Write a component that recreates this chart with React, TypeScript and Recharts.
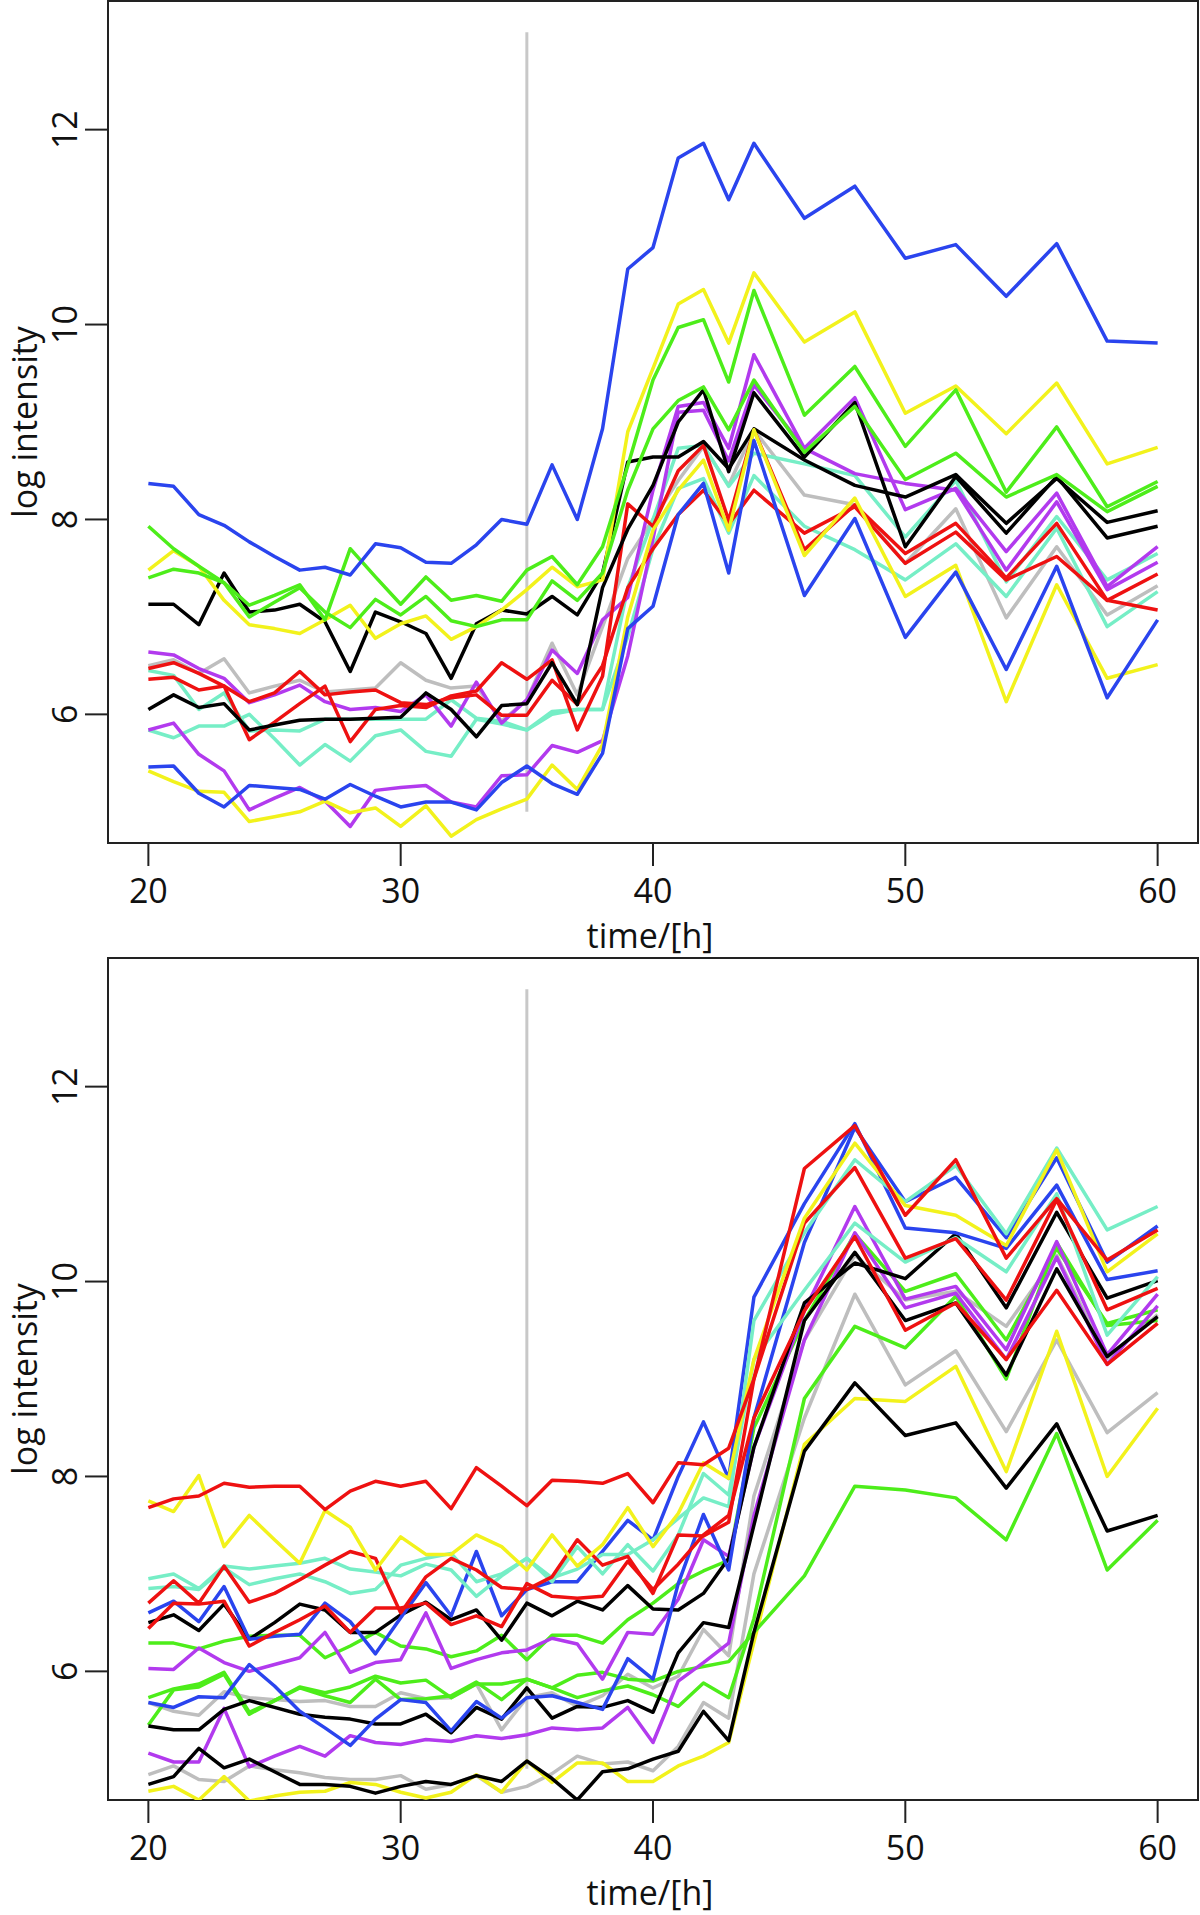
import React from 'react';
import { LineChart, Line, XAxis, YAxis, ReferenceLine, ReferenceArea } from 'recharts';

// sampling times (hourly to 44 h, then every 2 h)
const times = [20, 21, 22, 23, 24, 25, 26, 27, 28, 29, 30, 31, 32, 33, 34, 35, 36, 37, 38,
  39, 40, 41, 42, 43, 44, 46, 48, 50, 52, 54, 56, 58, 60];

const xTicks = [20, 30, 40, 50, 60];
const yTicks = [6, 8, 10, 12];

// ---- upper panel ----
const topBlue1 = [8.37, 8.34, 8.05, 7.94, 7.77, 7.62, 7.48, 7.51, 7.43, 7.75, 7.71, 7.56, 7.55, 7.74, 8.0, 7.95, 8.56, 8.0, 8.93,
  10.57, 10.79, 11.71, 11.86, 11.28, 11.86, 11.09, 11.42, 10.68, 10.82, 10.29, 10.83, 9.83, 9.81];
const topBlue2 = [5.46, 5.47, 5.19, 5.05, 5.27, 5.25, 5.23, 5.13, 5.28, 5.16, 5.05, 5.1, 5.1, 5.02, 5.3, 5.47, 5.29, 5.18, 5.6,
  6.88, 7.11, 8.05, 8.37, 7.45, 8.81, 7.22, 8.01, 6.79, 7.46, 6.46, 7.52, 6.17, 6.97];
const topYellow1 = [7.48, 7.68, 7.52, 7.17, 6.92, 6.88, 6.83, 6.97, 7.12, 6.78, 6.93, 7.01, 6.77, 6.9, 7.07, 7.28, 7.51, 7.31, 7.38,
  8.9, 9.55, 10.21, 10.36, 9.81, 10.53, 9.82, 10.13, 9.09, 9.37, 8.88, 9.4, 8.57, 8.74];
const topYellow2 = [5.42, 5.31, 5.21, 5.2, 4.9, 4.95, 5.0, 5.11, 4.99, 5.04, 4.85, 5.06, 4.75, 4.92, 5.03, 5.13, 5.48, 5.23, 5.69,
  7.0, 7.89, 8.3, 8.61, 7.89, 8.92, 7.63, 8.22, 7.21, 7.53, 6.13, 7.33, 6.37, 6.51];
const topGreen1 = [7.93, 7.7, 7.52, 7.35, 7.12, 7.22, 7.33, 6.97, 7.7, 7.41, 7.13, 7.41, 7.17, 7.22, 7.16, 7.48, 7.62, 7.33, 7.72,
  8.55, 9.43, 9.97, 10.05, 9.41, 10.35, 9.07, 9.57, 8.75, 9.33, 8.28, 8.95, 8.13, 8.39];
const topGreen2 = [7.4, 7.49, 7.45, 7.35, 7.0, 7.15, 7.3, 7.05, 6.89, 7.18, 7.02, 7.21, 6.96, 6.9, 6.97, 6.97, 7.37, 7.17, 7.45,
  8.3, 8.93, 9.22, 9.36, 8.92, 9.43, 8.69, 9.16, 8.41, 8.68, 8.23, 8.46, 8.08, 8.34];
const topBlack1 = [7.13, 7.13, 6.92, 7.45, 7.05, 7.07, 7.13, 6.95, 6.44, 7.05, 6.95, 6.83, 6.37, 6.93, 7.07, 7.03, 7.21, 7.02, 7.45,
  8.59, 8.64, 8.64, 8.8, 8.52, 8.93, 8.61, 8.35, 8.23, 8.46, 7.96, 8.42, 7.97, 8.09];
const topBlack2 = [6.05, 6.2, 6.07, 6.11, 5.84, 5.89, 5.94, 5.95, 5.95, 5.96, 5.97, 6.22, 6.05, 5.77, 6.09, 6.11, 6.53, 6.1, 7.3,
  7.9, 8.35, 9.0, 9.33, 8.49, 9.3, 8.64, 9.2, 7.72, 8.44, 7.86, 8.44, 7.81, 7.93];
const topGray = [6.5, 6.56, 6.42, 6.57, 6.22, 6.29, 6.35, 6.23, 6.25, 6.27, 6.53, 6.35, 6.27, 6.29, 5.93, 6.15, 6.73, 6.2, 6.9,
  7.6, 8.0, 8.4, 8.75, 8.35, 8.92, 8.25, 8.15, 7.55, 8.11, 6.99, 7.72, 7.02, 7.32];
const topPurple1 = [6.64, 6.61, 6.47, 6.37, 6.12, 6.2, 6.3, 6.13, 6.05, 6.07, 6.03, 6.2, 5.88, 6.33, 5.91, 6.15, 6.66, 6.42, 6.97,
  7.2, 8.3, 9.16, 9.2, 8.73, 9.69, 8.73, 9.25, 8.1, 8.32, 7.67, 8.27, 7.31, 7.72];
const topPurple2 = [5.84, 5.91, 5.59, 5.42, 5.02, 5.14, 5.25, 5.11, 4.85, 5.22, 5.25, 5.27, 5.1, 5.05, 5.37, 5.38, 5.68, 5.61, 5.73,
  6.6, 7.8, 9.1, 9.12, 8.6, 9.38, 8.73, 8.47, 8.37, 8.3, 7.48, 8.18, 7.28, 7.56];
const topRed1 = [6.47, 6.53, 6.42, 6.29, 5.74, 5.92, 6.11, 6.29, 5.72, 6.05, 6.09, 6.07, 6.19, 6.24, 6.53, 6.36, 6.56, 5.84, 6.39,
  8.16, 7.93, 8.5, 8.76, 7.99, 8.92, 7.69, 8.15, 7.65, 7.96, 7.4, 7.96, 7.17, 7.44];
const topRed2 = [6.36, 6.38, 6.25, 6.29, 6.13, 6.22, 6.44, 6.2, 6.23, 6.25, 6.12, 6.1, 6.17, 6.2, 5.99, 5.99, 6.35, 6.1, 6.5,
  7.3, 7.7, 8.05, 8.3, 7.95, 8.3, 7.86, 8.13, 7.55, 7.87, 7.38, 7.62, 7.17, 7.07];
const topCyan1 = [6.45, 6.4, 6.05, 6.22, 5.83, 5.84, 5.83, 5.95, 5.95, 5.95, 5.95, 5.95, 6.15, 5.96, 5.93, 5.84, 6.03, 6.05, 6.05,
  7.3, 8.0, 8.73, 8.76, 8.34, 8.68, 8.57, 8.45, 7.82, 8.4, 7.36, 8.03, 7.38, 7.65];
const topCyan2 = [5.84, 5.76, 5.88, 5.88, 6.0, 5.75, 5.48, 5.69, 5.52, 5.78, 5.84, 5.62, 5.57, 5.95, 5.9, 5.84, 6.0, 6.05, 6.05,
  6.8, 7.7, 8.32, 8.42, 7.86, 8.45, 7.93, 7.69, 7.38, 7.75, 7.21, 7.91, 6.9, 7.26];

// ---- lower panel ----
const botRed1 = [7.68, 7.77, 7.8, 7.93, 7.89, 7.9, 7.9, 7.66, 7.85, 7.95, 7.9, 7.95, 7.67, 8.09, 7.9, 7.7, 7.96, 7.95, 7.93,
  8.03, 7.73, 8.14, 8.12, 8.29, 9.0, 11.16, 11.6, 10.68, 11.25, 10.24, 10.85, 10.22, 10.53];
const botYellow1 = [7.75, 7.64, 8.01, 7.28, 7.6, 7.35, 7.11, 7.65, 7.48, 7.04, 7.38, 7.2, 7.2, 7.4, 7.28, 7.04, 7.4, 7.08, 7.3,
  7.68, 7.28, 7.62, 8.14, 7.98, 9.2, 10.65, 11.42, 10.78, 10.68, 10.37, 11.35, 10.1, 10.49];
const botCyan1 = [6.95, 7.0, 6.85, 7.08, 7.05, 7.08, 7.11, 7.16, 7.05, 7.02, 6.98, 7.1, 7.04, 6.77, 6.98, 7.16, 6.96, 7.05, 7.2,
  7.2, 7.35, 7.57, 7.78, 7.69, 9.6, 10.5, 11.25, 10.82, 11.19, 10.49, 11.37, 10.53, 10.77];
const botCyan2 = [6.85, 6.87, 6.84, 7.06, 6.89, 6.95, 7.0, 6.92, 6.8, 6.84, 7.09, 7.16, 7.21, 6.92, 7.0, 7.16, 6.92, 7.28, 7.0,
  7.3, 7.03, 7.4, 8.03, 7.81, 9.2, 9.91, 10.6, 10.2, 10.45, 10.1, 10.9, 9.45, 10.05];
const botRed2 = [6.7, 6.93, 6.7, 7.08, 6.71, 6.8, 6.94, 7.09, 7.23, 7.16, 6.6, 6.97, 7.16, 7.04, 6.86, 6.84, 6.97, 7.35, 7.09,
  7.18, 6.8, 7.4, 7.39, 7.53, 9.0, 10.6, 11.17, 10.24, 10.44, 9.81, 10.84, 9.71, 9.93];
const botRed3 = [6.44, 6.7, 6.69, 6.72, 6.26, 6.4, 6.53, 6.67, 6.4, 6.65, 6.65, 6.7, 6.48, 6.57, 6.46, 6.9, 6.77, 6.75, 6.77,
  7.13, 6.84, 7.1, 7.4, 7.6, 8.6, 9.7, 10.46, 9.5, 9.78, 9.2, 9.91, 9.15, 9.57];
const botBlue1 = [6.6, 6.72, 6.51, 6.87, 6.33, 6.36, 6.38, 6.7, 6.51, 6.18, 6.55, 6.91, 6.57, 7.23, 6.57, 6.84, 6.92, 6.92, 7.23,
  7.55, 7.35, 8.0, 8.56, 7.98, 9.84, 10.8, 11.62, 10.55, 10.5, 10.34, 10.99, 10.02, 10.11];
const botBlue2 = [5.68, 5.63, 5.74, 5.73, 6.07, 5.85, 5.59, 5.42, 5.24, 5.51, 5.71, 5.68, 5.39, 5.69, 5.52, 5.73, 5.75, 5.68, 5.61,
  6.13, 5.92, 6.9, 7.61, 7.04, 8.6, 10.4, 11.58, 10.82, 11.07, 10.45, 11.27, 10.2, 10.57];
const botBlack1 = [6.5, 6.58, 6.42, 6.69, 6.33, 6.5, 6.69, 6.63, 6.4, 6.4, 6.58, 6.71, 6.53, 6.63, 6.32, 6.7, 6.57, 6.72, 6.63,
  6.88, 6.64, 6.63, 6.8, 7.16, 8.3, 9.78, 10.19, 10.03, 10.49, 9.73, 10.71, 9.83, 10.01];
const botBlack2 = [5.44, 5.4, 5.4, 5.61, 5.7, 5.63, 5.56, 5.53, 5.51, 5.46, 5.46, 5.56, 5.37, 5.63, 5.51, 5.83, 5.52, 5.64, 5.63,
  5.7, 5.58, 6.19, 6.5, 6.45, 7.5, 9.6, 10.3, 9.6, 9.78, 9.04, 10.13, 9.23, 9.64];
const botBlack3 = [4.84, 4.92, 5.21, 5.01, 5.1, 4.97, 4.84, 4.84, 4.82, 4.75, 4.82, 4.87, 4.84, 4.93, 4.87, 5.08, 4.9, 4.68, 4.97,
  5.0, 5.1, 5.18, 5.59, 5.29, 6.4, 8.26, 8.96, 8.42, 8.55, 7.88, 8.54, 7.44, 7.6];
const botGreen1 = [6.29, 6.29, 6.23, 6.31, 6.36, 6.37, 6.37, 6.14, 6.26, 6.4, 6.26, 6.23, 6.15, 6.21, 6.37, 6.12, 6.37, 6.37, 6.29,
  6.53, 6.7, 6.9, 7.03, 7.14, 8.5, 9.6, 10.49, 9.9, 10.08, 9.4, 10.34, 9.57, 9.71];
const botGreen2 = [5.73, 5.82, 5.87, 5.99, 5.58, 5.7, 5.84, 5.78, 5.84, 5.95, 5.88, 5.91, 5.73, 5.87, 5.87, 5.92, 5.83, 5.96, 5.99,
  5.92, 5.9, 6.0, 6.05, 6.1, 6.4, 6.98, 7.9, 7.86, 7.78, 7.35, 8.44, 7.04, 7.55];
const botGreen3 = [5.45, 5.81, 5.84, 5.97, 5.56, 5.7, 5.83, 5.75, 5.68, 5.92, 5.71, 5.72, 5.75, 5.89, 5.71, 5.92, 5.83, 5.73, 5.8,
  5.85, 5.76, 5.64, 5.88, 5.73, 6.54, 8.8, 9.54, 9.32, 9.85, 9.0, 10.4, 9.55, 9.6];
const botPurple1 = [6.03, 6.02, 6.24, 6.09, 6.0, 6.07, 6.14, 6.4, 5.99, 6.09, 6.12, 6.6, 6.03, 6.12, 6.19, 6.22, 6.34, 6.28, 5.92,
  6.4, 6.38, 6.74, 7.35, 7.18, 8.3, 9.7, 10.77, 9.82, 9.95, 9.3, 10.41, 9.25, 9.87];
const botPurple2 = [5.16, 5.07, 5.07, 5.62, 5.02, 5.13, 5.23, 5.13, 5.34, 5.27, 5.25, 5.3, 5.28, 5.34, 5.31, 5.35, 5.42, 5.4, 5.42,
  5.63, 5.27, 5.9, 6.09, 6.29, 7.6, 9.4, 10.5, 9.73, 9.88, 9.2, 10.25, 9.15, 9.75];
const botGray1 = [5.68, 5.59, 5.55, 5.79, 5.73, 5.71, 5.69, 5.7, 5.64, 5.64, 5.78, 5.72, 5.73, 5.87, 5.4, 5.73, 5.78, 5.64, 5.75,
  5.97, 5.83, 5.95, 6.43, 6.16, 7.8, 9.4, 10.27, 9.81, 9.9, 9.54, 10.27, 9.21, 9.66];
const botGray2 = [4.94, 5.03, 4.89, 4.87, 5.03, 4.99, 4.96, 4.91, 4.89, 4.89, 4.93, 4.79, 4.84, 4.93, 4.76, 4.82, 4.95, 5.13, 5.05,
  5.07, 4.98, 5.23, 5.68, 5.52, 7.0, 8.6, 9.87, 8.94, 9.29, 8.46, 9.4, 8.45, 8.86];
const botYellow2 = [4.77, 4.82, 4.68, 4.92, 4.67, 4.72, 4.76, 4.77, 4.86, 4.84, 4.76, 4.7, 4.76, 4.94, 4.76, 5.08, 4.86, 5.06, 5.06,
  4.87, 4.87, 5.03, 5.13, 5.27, 6.3, 8.33, 8.8, 8.77, 9.13, 8.05, 9.49, 8.0, 8.7];

const BLUE = '#2a44ee';
const YELLOW = '#f2f21c';
const GREEN = '#4ded1a';
const PURPLE = '#b23aee';
const CYAN = '#76eec6';
const RED = '#ee1111';
const GRAY = '#bebebe';
const BLACK = '#000000';

const topSeries = [
  { key: 'gray', color: GRAY, values: topGray },
  { key: 'cyan2', color: CYAN, values: topCyan2 },
  { key: 'cyan1', color: CYAN, values: topCyan1 },
  { key: 'purple2', color: PURPLE, values: topPurple2 },
  { key: 'purple1', color: PURPLE, values: topPurple1 },
  { key: 'red2', color: RED, values: topRed2 },
  { key: 'red1', color: RED, values: topRed1 },
  { key: 'black2', color: BLACK, values: topBlack2 },
  { key: 'black1', color: BLACK, values: topBlack1 },
  { key: 'yellow2', color: YELLOW, values: topYellow2 },
  { key: 'yellow1', color: YELLOW, values: topYellow1 },
  { key: 'green2', color: GREEN, values: topGreen2 },
  { key: 'green1', color: GREEN, values: topGreen1 },
  { key: 'blue2', color: BLUE, values: topBlue2 },
  { key: 'blue1', color: BLUE, values: topBlue1 },
];

const botSeries = [
  { key: 'gray2', color: GRAY, values: botGray2 },
  { key: 'gray1', color: GRAY, values: botGray1 },
  { key: 'yellow2', color: YELLOW, values: botYellow2 },
  { key: 'green2', color: GREEN, values: botGreen2 },
  { key: 'green3', color: GREEN, values: botGreen3 },
  { key: 'green1', color: GREEN, values: botGreen1 },
  { key: 'purple2', color: PURPLE, values: botPurple2 },
  { key: 'purple1', color: PURPLE, values: botPurple1 },
  { key: 'black3', color: BLACK, values: botBlack3 },
  { key: 'black2', color: BLACK, values: botBlack2 },
  { key: 'black1', color: BLACK, values: botBlack1 },
  { key: 'blue2', color: BLUE, values: botBlue2 },
  { key: 'blue1', color: BLUE, values: botBlue1 },
  { key: 'cyan2', color: CYAN, values: botCyan2 },
  { key: 'cyan1', color: CYAN, values: botCyan1 },
  { key: 'red3', color: RED, values: botRed3 },
  { key: 'red2', color: RED, values: botRed2 },
  { key: 'yellow1', color: YELLOW, values: botYellow1 },
  { key: 'red1', color: RED, values: botRed1 },
];

const FONT = '"Open Sans", "Liberation Sans", Arial, sans-serif';
const X_DOMAIN: [number, number] = [18.4, 61.6];
const Y_DOMAIN: [number, number] = [4.68, 13.32];

const XTick = (props: any) => {
  const { x, y, payload } = props;
  return (
    <text x={x} y={y + 37} textAnchor="middle" fontSize={34} fontFamily={FONT} fill="#111">
      {payload.value}
    </text>
  );
};

const YTick = (props: any) => {
  const { y, payload } = props;
  const bx = 77;
  return (
    <text x={bx} y={y} transform={`rotate(-90 ${bx} ${y})`} textAnchor="middle" fontSize={34} fontFamily={FONT} fill="#111">
      {payload.value}
    </text>
  );
};

const Panel = ({ series, top }: { series: typeof topSeries; top: number }) => {
  const data = times.map((t, i) => {
    const row: Record<string, number> = { t };
    series.forEach((s) => { row[s.key] = s.values[i]; });
    return row;
  });
  return (
    <div style={{ position: 'absolute', left: 0, top, width: 1200, height: 958 }}>
      <LineChart width={1200} height={958} data={data} margin={{ top: 1, right: 2, bottom: 0, left: 0 }}>
        <XAxis
          dataKey="t" type="number" domain={X_DOMAIN} ticks={xTicks} allowDataOverflow interval={0}
          axisLine={false} tickSize={23} tickMargin={0} height={115}
          tickLine={{ stroke: '#222', strokeWidth: 2 }} tick={<XTick />}
        />
        <YAxis
          type="number" domain={Y_DOMAIN} ticks={yTicks} allowDataOverflow interval={0}
          axisLine={false} tickSize={23} tickMargin={0} width={108}
          tickLine={{ stroke: '#222', strokeWidth: 2 }} tick={<YTick />}
        />
        <ReferenceLine segment={[{ x: 35, y: 5 }, { x: 35, y: 13 }]} stroke="#c8c8c8" strokeWidth={3} />
        {series.map((s) => (
          <Line
            key={s.key} dataKey={s.key} stroke={s.color} strokeWidth={3.5} dot={false}
            strokeLinejoin="round" isAnimationActive={false} type="linear"
          />
        ))}
        <ReferenceArea x1={X_DOMAIN[0]} x2={X_DOMAIN[1]} y1={Y_DOMAIN[0]} y2={Y_DOMAIN[1]}
          fill="#ffffff" fillOpacity={0} stroke="#222" strokeWidth={2} />
      </LineChart>
      <svg width={1200} height={958} style={{ position: 'absolute', left: 0, top: 0, pointerEvents: 'none' }}>
        <text x={37} y={422} transform="rotate(-90 37 422)" textAnchor="middle" fontSize={34} fontFamily={FONT} fill="#111">
          log intensity
        </text>
        <text x={650} y={948} textAnchor="middle" fontSize={34} fontFamily={FONT} fill="#111">
          time/[h]
        </text>
      </svg>
    </div>
  );
};

export default function App() {
  return (
    <div style={{ position: 'absolute', left: 0, top: 0, width: 1200, height: 1915, background: '#fff' }}>
      <Panel series={topSeries} top={0} />
      <Panel series={botSeries} top={957} />
    </div>
  );
}
